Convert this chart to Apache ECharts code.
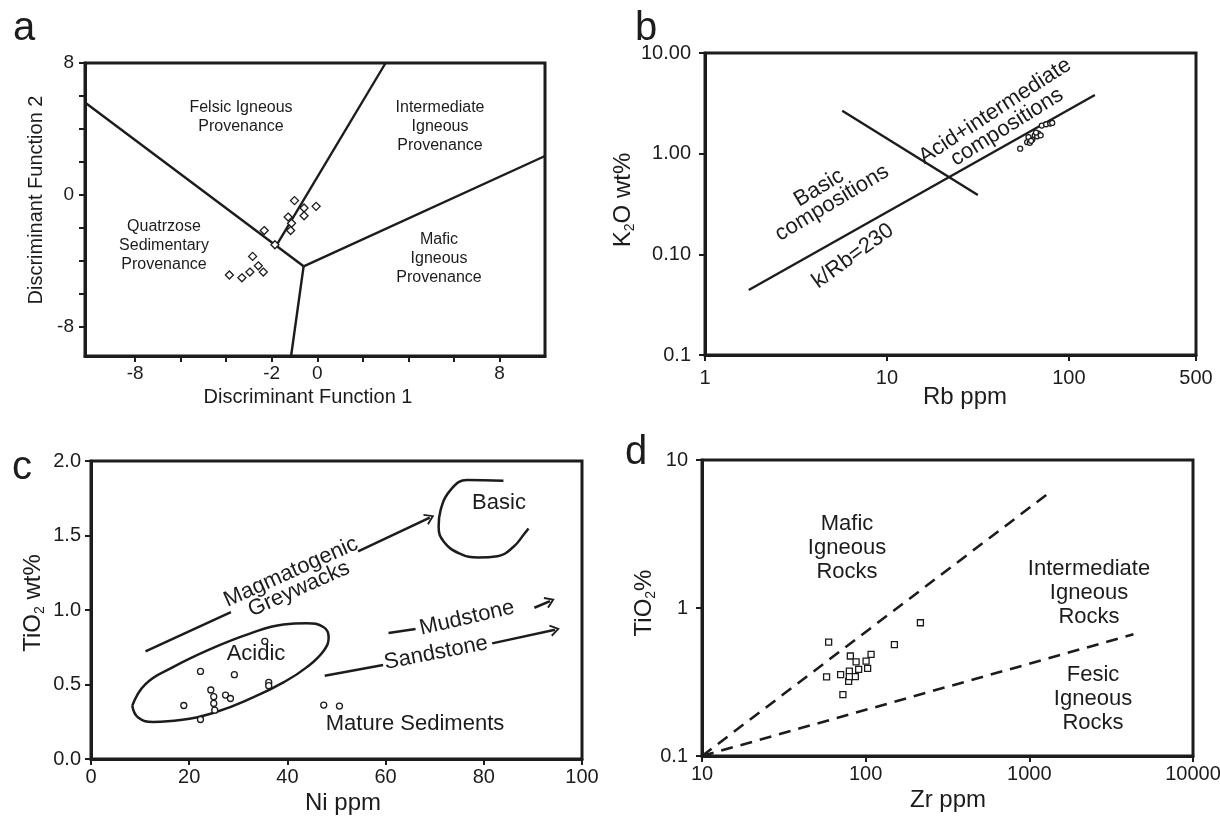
<!DOCTYPE html>
<html>
<head>
<meta charset="utf-8">
<title>Provenance discrimination diagrams</title>
<script src="https://cdn.jsdelivr.net/npm/echarts@6.0.0/dist/echarts.min.js"></script>
<style>
  html, body { margin: 0; padding: 0; background: #fff; }
  #chart-container { width: 1220px; height: 821px; }
</style>
</head>
<body>
<div id="chart-container"></div>
<script>
  // ---- a: discriminant function diagram ----
  const aPoints = [
    [-1.0, -0.36], [-0.58, -0.81], [-0.05, -0.71], [-1.28, -1.36], [-0.58, -1.28],
    [-1.13, -1.74], [-1.17, -2.18], [-2.33, -2.18], [-1.86, -3.04], [-2.84, -3.75],
    [-2.59, -4.32], [-2.37, -4.70], [-2.96, -4.70], [-3.31, -5.05], [-3.86, -4.88],
  ];
  const aQuartzoseLine = [[-10.2, 5.6], [-0.6, -4.35]];
  const aBottomLine = [[-0.6, -4.35], [-1.15, -9.8]];
  const aMaficLine = [[-0.6, -4.35], [10, 2.35]];
  const aFelsicLine = [[-1.8, -3.1], [3.0, 8]];
  const aXTicks = [-8, -6, -4, -2, 0, 2, 4, 6, 8];
  const aXLabels = [-8, -2, 0, 8];
  const aYTicks = [-8, -6, -4, -2, 0, 2, 4, 6, 8];
  const aYLabels = [-8, 0, 8];

  // ---- b: K2O vs Rb ----
  const bPoints = [
    [54, 1.12], [59, 1.30], [61, 1.28], [63, 1.38], [60, 1.46], [65, 1.52], [68, 1.58],
    [67, 1.49], [70, 1.52], [62, 1.34], [71, 1.90], [75, 1.96], [79, 1.99], [81, 2.02], [66, 1.62],
  ];
  const bKRbLine = [[1.74, 0.0443], [139, 3.83]];
  const bCrossLine = [[5.68, 2.67], [31.6, 0.389]];
  const bYLabels = { "-2": "0.1", "-1": "0.10", "0": "1.00", "1": "10.00" };

  // ---- c: TiO2 vs Ni ----
  const cPoints = [
    [35.4, 0.79], [22.3, 0.588], [29.2, 0.566], [36.2, 0.514], [36.2, 0.492],
    [24.4, 0.463], [25.0, 0.418], [25.0, 0.373], [27.4, 0.429], [28.4, 0.406],
    [18.9, 0.359], [22.3, 0.265], [47.4, 0.362], [50.6, 0.355], [25.2, 0.328],
  ];
  const cAcidicField = [
    [8.4, 0.357], [11.1, 0.503], [16.6, 0.615], [24.4, 0.739], [32.2, 0.84], [39.2, 0.903],
    [43.9, 0.911], [47.4, 0.884], [48.4, 0.817], [47.4, 0.727], [43.9, 0.615], [39.2, 0.514],
    [33.0, 0.413], [25.2, 0.312], [18.2, 0.261], [12.7, 0.249], [9.6, 0.278], [8.4, 0.357],
  ];
  const cBasicField = [
    [84.0, 1.867], [76.6, 1.872], [73.5, 1.816], [71.2, 1.67], [70.8, 1.558], [71.9, 1.457],
    [75.1, 1.379], [78.9, 1.352], [82.8, 1.361], [86.0, 1.423], [88.3, 1.513], [89.1, 1.547],
  ];
  const cMagmaLine = [[11.1, 0.723], [28.5, 0.986]];
  const cMudLine = [[60.6, 0.846], [66.1, 0.873]];
  const cSandLine = [[47.6, 0.559], [59.5, 0.631]];
  const cArrows = [
    [54.4, 1.394, 69.0, 1.62],
    [90.3, 1.015, 93.5, 1.06],
    [81.7, 0.776, 94.5, 0.868],
  ];

  // ---- d: TiO2 vs Zr ----
  const dPoints = [
    [59.4, 0.588], [149.8, 0.565], [216, 0.795], [80.6, 0.474], [87.4, 0.432], [107.9, 0.486],
    [100.6, 0.438], [90.6, 0.385], [102.8, 0.391], [57.7, 0.342], [70.3, 0.355], [79.5, 0.375],
    [86.5, 0.344], [78.7, 0.319], [72.6, 0.26], [79.5, 0.344],
  ];
  const dMaficLine = [[10, 0.1], [1271, 5.81]];
  const dFelsicLine = [[10, 0.1], [4325, 0.664]];
  const dYLabels = { "-1": "0.1", "0": "1", "1": "10" };

  const ink = "#1c1c1c";
  const font = "Liberation Sans, Arial, sans-serif";

  // text placed on the page: [text, x, y, angle, fontSize, lineHeight]
  const pageTexts = [
    ["a", 24, 29, 0, 40], ["b", 646, 29, 0, 40], ["c", 22, 468, 0, 40], ["d", 636, 453, 0, 40],
    ["Discriminant Function 1", 308, 397, 0, 20],
    ["Discriminant Function 2", 36, 200, 90, 20],
    ["Rb ppm", 965, 397, 0, 24],
    ["K{s|2}O wt%", 623, 200, 90, 24],
    ["Ni ppm", 343, 803, 0, 24],
    ["TiO{s|2} wt%", 33, 603, 90, 24],
    ["Zr ppm", 948, 800, 0, 24],
    ["TiO{s|2}%", 644, 603, 90, 24],
    ["Felsic Igneous\nProvenance", 241, 117, 0, 16, 19],
    ["Intermediate\nIgneous\nProvenance", 440, 127, 0, 16, 19],
    ["Quatrzose\nSedimentary\nProvenance", 164, 246, 0, 16, 19],
    ["Mafic\nIgneous\nProvenance", 439, 259, 0, 16, 19],
    ["Acid+intermediate", 995, 111, 33, 22],
    ["compositions", 1007, 127, 32, 22],
    ["Basic", 819, 188, 31, 22],
    ["compositions", 832, 203, 31, 22],
    ["k/Rb=230", 853, 256, 36, 22],
    ["Basic", 499, 503, 0, 22],
    ["Acidic", 256, 654, 0, 22],
    ["Mature Sediments", 415, 724, 0, 22],
    ["Magmatogenic", 291, 572, 24, 22],
    ["Greywacks", 299, 589, 24, 22],
    ["Mudstone", 467, 618, 13, 22],
    ["Sandstone", 436, 653, 11, 22],
    ["Mafic\nIgneous\nRocks", 847, 548, 0, 22, 24],
    ["Intermediate\nIgneous\nRocks", 1089, 593, 0, 22, 24],
    ["Fesic\nIgneous\nRocks", 1093, 699, 0, 22, 24],
  ];

  function makeAxis(opts) {
    const axis = {
      type: opts.type || "value",
      gridIndex: opts.grid,
      min: opts.min,
      max: opts.max,
      axisLine: { show: true, onZero: false, lineStyle: { color: ink, width: 3 } },
      axisTick: { show: true, length: 6, lineStyle: { color: ink, width: 2 } },
      axisLabel: { color: ink, fontFamily: font, fontSize: opts.fontSize || 20, margin: opts.margin },
      splitLine: { show: false },
    };
    if (opts.interval) axis.interval = opts.interval;
    if (opts.logBase) axis.logBase = opts.logBase;
    if (opts.formatter) axis.axisLabel.formatter = opts.formatter;
    if (opts.labelValues) axis.axisLabel.customValues = opts.labelValues;
    if (opts.tickValues) axis.axisTick.customValues = opts.tickValues;
    return axis;
  }

  function segment(i, data, extra) {
    return Object.assign({
      type: "line",
      xAxisIndex: i,
      yAxisIndex: i,
      data: data,
      symbol: "none",
      silent: true,
      lineStyle: { color: ink, width: 2.4 },
    }, extra || {});
  }

  function points(i, data, symbol, size) {
    return {
      type: "scatter",
      xAxisIndex: i,
      yAxisIndex: i,
      data: data,
      symbol: symbol,
      symbolSize: size,
      silent: true,
      z: 5,
      itemStyle: { color: "#fff", borderColor: ink, borderWidth: 1.3, opacity: 1 },
    };
  }

  const logLabel = (map) => (v) => map[String(Math.round(Math.log10(v)))] || "";
  const chevron = "path://M6,0 L12,9 L10.4,10 L6,3.2 L1.6,10 L0,9 Z";

  var dom = document.getElementById("chart-container");
  var myChart = echarts.init(dom, null, {
    renderer: "canvas",
    useDirtyRect: false,
  });

  var option = {
    animation: false,
    backgroundColor: "#fff",
    grid: [
      { left: 85, top: 63, width: 460, height: 293 },
      { left: 705, top: 53, width: 491, height: 302 },
      { left: 91, top: 461, width: 491, height: 298 },
      { left: 702, top: 460, width: 491, height: 296 },
    ].map((g) => Object.assign(g, {
      show: true, borderColor: ink, borderWidth: 3, containLabel: false, outerBoundsMode: "none",
    })),
    xAxis: [
      makeAxis({ grid: 0, min: -10.2, max: 10, fontSize: 19, margin: 8, labelValues: aXLabels, tickValues: aXTicks }),
      makeAxis({ grid: 1, type: "log", logBase: 10, min: 1, max: 500, margin: 13, formatter: (v) => String(Math.round(v)) }),
      makeAxis({ grid: 2, min: 0, max: 100, interval: 20, margin: 8 }),
      makeAxis({ grid: 3, type: "log", logBase: 10, min: 10, max: 10000, margin: 8, formatter: (v) => String(Math.round(v)) }),
    ],
    yAxis: [
      makeAxis({ grid: 0, min: -9.8, max: 8, fontSize: 19, margin: 11, labelValues: aYLabels, tickValues: aYTicks }),
      makeAxis({ grid: 1, type: "log", logBase: 10, min: 0.01, max: 10, margin: 14, formatter: logLabel(bYLabels) }),
      makeAxis({ grid: 2, min: 0, max: 2, interval: 0.5, margin: 10, formatter: (v) => v.toFixed(1) }),
      makeAxis({ grid: 3, type: "log", logBase: 10, min: 0.1, max: 10, margin: 14, formatter: logLabel(dYLabels) }),
    ],
    series: [
      segment(0, aQuartzoseLine),
      segment(0, aBottomLine),
      segment(0, aMaficLine),
      segment(0, aFelsicLine),
      points(0, aPoints, "diamond", 8),

      segment(1, bKRbLine),
      segment(1, bCrossLine),
      points(1, bPoints, "circle", 5),

      segment(2, cAcidicField, { smooth: 0.45, lineStyle: { color: ink, width: 2.5 } }),
      segment(2, cBasicField, { smooth: 0.45, lineStyle: { color: ink, width: 2.5 } }),
      segment(2, cMagmaLine, { lineStyle: { color: ink, width: 2.5 } }),
      segment(2, cMudLine, { lineStyle: { color: ink, width: 2.5 } }),
      segment(2, cSandLine, { lineStyle: { color: ink, width: 2.5 } }),
      {
        type: "scatter",
        xAxisIndex: 2,
        yAxisIndex: 2,
        data: cArrows.map((a) => [a[0], a[1]]),
        symbolSize: 0,
        silent: true,
        markLine: {
          silent: true,
          symbol: ["none", chevron],
          symbolSize: [12, 10],
          label: { show: false },
          lineStyle: { color: ink, width: 2.5, type: "solid" },
          data: cArrows.map((a) => [{ coord: [a[0], a[1]] }, { coord: [a[2], a[3]] }]),
        },
      },
      points(2, cPoints, "circle", 6),

      segment(3, dMaficLine, { lineStyle: { color: ink, width: 2.6, type: [12, 8] } }),
      segment(3, dFelsicLine, { lineStyle: { color: ink, width: 2.6, type: [12, 8] } }),
      points(3, dPoints, "rect", 6),
    ],
    graphic: pageTexts.map((t) => ({
      type: "text",
      x: t[1],
      y: t[2],
      rotation: (t[3] * Math.PI) / 180,
      silent: true,
      z: 50,
      style: {
        text: t[0],
        fill: ink,
        fontFamily: font,
        fontSize: t[4],
        lineHeight: t[5] || Math.round(t[4] * 1.15),
        align: "center",
        verticalAlign: "middle",
        rich: {
          s: { fontSize: Math.round(t[4] * 0.6), fontFamily: font, fill: ink, verticalAlign: "bottom", lineHeight: t[4] },
        },
      },
    })),
  };

  if (option && typeof option === "object") {
    myChart.setOption(option);
  }

  window.addEventListener("resize", myChart.resize);
</script>
</body>
</html>
